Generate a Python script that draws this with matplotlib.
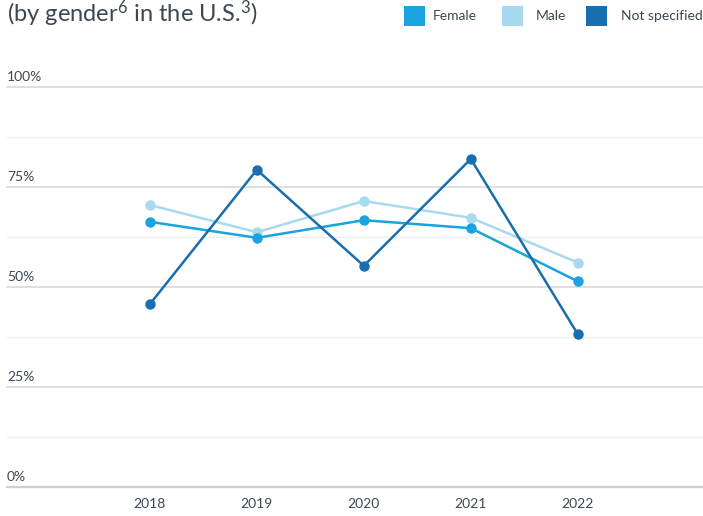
import matplotlib.pyplot as plt
from matplotlib.patches import Rectangle
import matplotlib.transforms as mtransforms

plt.rcParams["font.family"] = ["Lato", "DejaVu Sans"]
plt.rcParams["mathtext.fontset"] = "custom"
plt.rcParams["mathtext.rm"] = "Lato:style=normal"
plt.rcParams["mathtext.it"] = "Lato:style=normal"

# === data
years = ["2018", "2019", "2020", "2021", "2022"]
female = [66.3, 62.3, 66.7, 64.7, 51.4]
male = [70.5, 63.7, 71.5, 67.3, 56.1]
not_specified = [45.7, 79.3, 55.3, 82.0, 38.2]
ytick_values = [0, 25, 50, 75, 100]
ytick_labels = ["0%", "25%", "50%", "75%", "100%"]
minor_values = [12.5, 37.5, 62.5, 87.5]

c_female = "#1aa3de"
c_male = "#a7daef"
c_ns = "#196eb0"
text_col = "#3d4752"

fig = plt.figure(figsize=(7.03, 5.16), dpi=100)
W, H = 703, 516
ax = fig.add_axes([7 / W, 29 / H, 696 / W, 400 / H])
ax.set_xlim(-1.335, 5.17)
ax.set_ylim(0, 100)
for s in ax.spines.values():
    s.set_visible(False)
ax.set_yticks([])
ax.tick_params(axis="x", length=0, pad=8, labelsize=10, labelcolor=text_col)

x = list(range(len(years)))
ax.set_xticks(x)
ax.set_xticklabels(years)

# grid
for v in minor_values:
    ax.axhline(v, color="#efefef", lw=1.0, zorder=0)
for v in ytick_values:
    ax.axhline(v, color="#d6d6d6" if v > 0 else "#d0d0d0", lw=1.1 if v > 0 else 1.6,
               zorder=0, clip_on=False)

off = mtransforms.offset_copy(ax.get_yaxis_transform(), fig=fig, x=0, y=3, units="points")
for v, lab in zip(ytick_values, ytick_labels):
    ax.text(0, v, lab, transform=off, ha="left", va="bottom", fontsize=10, color=text_col)

# lines
for vals, col in [(male, c_male), (female, c_female), (not_specified, c_ns)]:
    ax.plot(x, vals, color=col, lw=1.8, marker="o", markersize=7.5,
            markeredgewidth=0, clip_on=False, zorder=3)

# title
fig.text(7 / W, 1 - 22 / H, r"(by gender$^{\mathregular{6}}$ in the U.S.$^{\mathregular{3}}$)",
         fontsize=17, color=text_col, ha="left", va="baseline")

# legend
items = [("Female", c_female, 404, 433), ("Male", c_male, 502, 536),
         ("Not specified", c_ns, 586, 621)]
for lab, col, sx, tx in items:
    fig.patches.append(Rectangle((sx / W, 1 - 26 / H), 21 / W, 20 / H,
                                 transform=fig.transFigure, facecolor=col, edgecolor="none"))
    fig.text(tx / W, 1 - 16 / H, lab, fontsize=10, color=text_col, ha="left", va="center")

fig.savefig("out.png", dpi=100)
